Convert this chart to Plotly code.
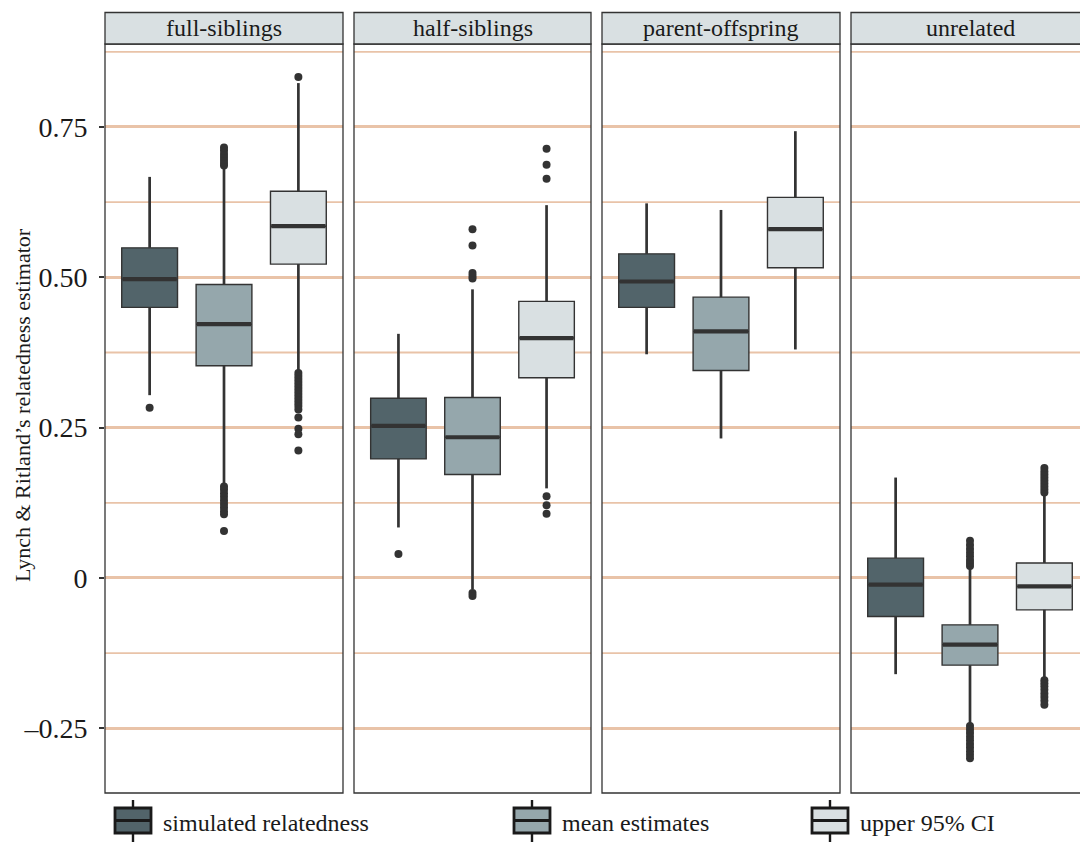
import plotly.graph_objects as go
from plotly.subplots import make_subplots

# ---------------- data ----------------
categories = ["full-siblings", "half-siblings", "parent-offspring", "unrelated"]
series = ["simulated relatedness", "mean estimates", "upper 95% CI"]

sim_lo = [0.304, 0.084, 0.372, -0.160]
sim_q1 = [0.450, 0.198, 0.450, -0.064]
sim_med = [0.497, 0.253, 0.493, -0.011]
sim_q3 = [0.549, 0.299, 0.539, 0.033]
sim_hi = [0.667, 0.406, 0.623, 0.167]
sim_out = [[0.283], [0.040], [], []]

mean_lo = [0.157, -0.019, 0.232, -0.242]
mean_q1 = [0.353, 0.172, 0.345, -0.145]
mean_med = [0.422, 0.234, 0.410, -0.111]
mean_q3 = [0.488, 0.300, 0.467, -0.078]
mean_hi = [0.684, 0.480, 0.612, 0.016]
mean_out = [
    [0.686, 0.690, 0.695, 0.700, 0.705, 0.711, 0.716,
     0.152, 0.147, 0.141, 0.135, 0.129, 0.123, 0.117, 0.111, 0.106, 0.078],
    [0.498, 0.502, 0.507, 0.553, 0.580, -0.025, -0.030],
    [],
    [0.020, 0.025, 0.030, 0.036, 0.042, 0.048, 0.055, 0.062,
     -0.246, -0.252, -0.258, -0.264, -0.270, -0.276, -0.282, -0.288, -0.294, -0.300],
]

ci_lo = [0.346, 0.149, 0.380, -0.167]
ci_q1 = [0.522, 0.333, 0.516, -0.053]
ci_med = [0.585, 0.399, 0.580, -0.014]
ci_q3 = [0.643, 0.460, 0.633, 0.025]
ci_hi = [0.823, 0.620, 0.743, 0.138]
ci_out = [
    [0.833, 0.341, 0.336, 0.331, 0.326, 0.321, 0.316, 0.311, 0.306, 0.301,
     0.296, 0.291, 0.286, 0.280, 0.267, 0.248, 0.239, 0.212],
    [0.664, 0.687, 0.714, 0.136, 0.121, 0.107],
    [],
    [0.142, 0.147, 0.152, 0.157, 0.162, 0.167, 0.172, 0.177, 0.183,
     -0.170, -0.175, -0.180, -0.186, -0.192, -0.198, -0.204, -0.211],
]

y_tick_vals = [-0.25, 0, 0.25, 0.5, 0.75]
y_tick_text = ["\u20130.25", "0", "0.25", "0.50", "0.75"]
y_minor_vals = [-0.125, 0.125, 0.375, 0.625, 0.875]
y_title = "Lynch & Ritland\u2019s relatedness estimator"

# ---------------- style ----------------
FONT = "Liberation Serif"
DARK = "#333333"
TXT = "#1a1a1a"
GRID = "#E9C3A8"
STRIP_FILL = "#D9E0E2"
FILLS = ["#52646A", "#95A7AC", "#D9E0E2"]
BOX_W = 0.75

stats = [
    (sim_lo, sim_q1, sim_med, sim_q3, sim_hi, sim_out),
    (mean_lo, mean_q1, mean_med, mean_q3, mean_hi, mean_out),
    (ci_lo, ci_q1, ci_med, ci_q3, ci_hi, ci_out),
]

W, H = 1080, 843
ML, MR, MT, MB = 105, 0, 44, 50
PW = W - ML - MR
PH = H - MT - MB
panel_px = [(105, 343), (354, 591), (602, 840), (851, 1089)]
doms = [((a - ML) / PW, min(1.0, (b - ML) / PW)) for a, b in panel_px]


def px_x(p):
    return (p - ML) / PW


def px_y(p):
    return (H - MB - p) / PH


fig = make_subplots(rows=1, cols=4, shared_yaxes=True, horizontal_spacing=0.01)

for f in range(4):
    col = f + 1
    for s in range(3):
        lo, q1, med, q3, hi, out = stats[s]
        pos = s + 1
        # whiskers (thick)
        fig.add_trace(go.Scatter(
            x=[pos, pos, None, pos, pos], y=[lo[f], q1[f], None, q3[f], hi[f]],
            mode="lines", line=dict(color=DARK, width=2.7),
            showlegend=False, hoverinfo="skip",
        ), row=1, col=col)
        fig.add_trace(go.Box(
            x=[pos], q1=[q1[f]], median=[med[f]], q3=[q3[f]],
            lowerfence=[q1[f]], upperfence=[q3[f]],
            width=BOX_W, whiskerwidth=0, boxpoints=False,
            fillcolor=FILLS[s], line=dict(color=DARK, width=1.4),
            name=series[s], showlegend=False,
            hoverinfo="skip",
        ), row=1, col=col)
        # thick median bar
        fig.add_trace(go.Scatter(
            x=[pos - BOX_W / 2 + 0.01, pos + BOX_W / 2 - 0.01], y=[med[f], med[f]],
            mode="lines", line=dict(color=DARK, width=4.2),
            showlegend=False, hoverinfo="skip",
        ), row=1, col=col)
        if out[f]:
            fig.add_trace(go.Scatter(
                x=[pos] * len(out[f]), y=out[f], mode="markers",
                marker=dict(color=DARK, size=8, line=dict(width=0)),
                showlegend=False, hoverinfo="skip",
            ), row=1, col=col)

y_range = [-0.3576, 0.888]
x_full = 3.2
for f in range(4):
    a, b = panel_px[f]
    vis_right = min(b, W)
    xr = [0.4, 0.4 + x_full * (vis_right - a) / (b - a)]
    fig.update_xaxes(domain=list(doms[f]), range=xr, showgrid=False, zeroline=False,
                     showticklabels=False, ticks="", showline=False, row=1, col=f + 1)
    fig.update_yaxes(range=y_range, showgrid=True, gridcolor=GRID, gridwidth=2.6,
                     zeroline=False, tickvals=y_tick_vals, ticktext=y_tick_text,
                     showline=False, row=1, col=f + 1)
    if f == 0:
        fig.update_yaxes(ticks="outside", ticklen=5, tickwidth=1.6, tickcolor=DARK,
                         ticklabelstandoff=6,
                         tickfont=dict(family=FONT, size=28, color=TXT),
                         row=1, col=1)
    else:
        fig.update_yaxes(showticklabels=False, ticks="", row=1, col=f + 1)

    xref = "x domain" if f == 0 else f"x{f + 1} domain"
    yref = "y" if f == 0 else f"y{f + 1}"
    for mv in y_minor_vals:
        fig.add_shape(type="line", xref=xref, yref=yref, x0=0, x1=1, y0=mv, y1=mv,
                      line=dict(color=GRID, width=1.8), layer="below")

    x0 = px_x(a)
    x1 = px_x(b)
    # panel border
    fig.add_shape(type="rect", xref="paper", yref="paper", x0=x0, x1=x1, y0=0, y1=1,
                  line=dict(color=DARK, width=1.3), fillcolor="rgba(0,0,0,0)", layer="above")
    # strip
    fig.add_shape(type="rect", xref="paper", yref="paper", x0=x0, x1=x1,
                  y0=1, y1=px_y(12.5), line=dict(color=DARK, width=1.3),
                  fillcolor=STRIP_FILL, layer="above")
    fig.add_annotation(x=px_x((a + b) / 2), y=px_y(28.5), xref="paper", yref="paper",
                       text=categories[f], showarrow=False, xanchor="center", yanchor="middle",
                       font=dict(family=FONT, size=24, color=TXT))

fig.add_annotation(x=px_x(22), y=px_y(405), xref="paper", yref="paper", text=y_title,
                   textangle=-90, showarrow=False, xanchor="center", yanchor="middle",
                   font=dict(family=FONT, size=22, color=TXT))

# ---------------- manual legend (key glyphs + labels) ----------------
leg_left = [115, 514, 812]
GW = 36
box_top, box_bot, med_y = 808, 833, 820.5
for s in range(3):
    gx0 = leg_left[s]
    gx1 = gx0 + GW
    cx = (gx0 + gx1) / 2
    fig.add_shape(type="line", xref="paper", yref="paper",
                  x0=px_x(cx), x1=px_x(cx), y0=px_y(800), y1=px_y(box_top),
                  line=dict(color=TXT, width=2.4))
    fig.add_shape(type="line", xref="paper", yref="paper",
                  x0=px_x(cx), x1=px_x(cx), y0=px_y(box_bot), y1=px_y(842),
                  line=dict(color=TXT, width=2.4))
    fig.add_shape(type="rect", xref="paper", yref="paper",
                  x0=px_x(gx0), x1=px_x(gx1), y0=px_y(box_bot), y1=px_y(box_top),
                  fillcolor=FILLS[s], line=dict(color=TXT, width=2.8))
    fig.add_shape(type="line", xref="paper", yref="paper",
                  x0=px_x(gx0), x1=px_x(gx1), y0=px_y(med_y), y1=px_y(med_y),
                  line=dict(color=TXT, width=3.2))
    fig.add_annotation(x=px_x(gx1 + 10), y=px_y(823), xref="paper", yref="paper",
                       text=series[s], showarrow=False, xanchor="left", yanchor="middle",
                       font=dict(family=FONT, size=24, color=TXT))

fig.update_layout(
    width=W, height=H,
    margin=dict(l=ML, r=MR, t=MT, b=MB),
    paper_bgcolor="white", plot_bgcolor="white",
    boxmode="overlay",
    showlegend=False,
    font=dict(family=FONT, color=TXT),
)

fig.write_html("out.html", config={"displayModeBar": False},
               post_script="document.body.style.margin='0';document.body.style.overflow='hidden';")
